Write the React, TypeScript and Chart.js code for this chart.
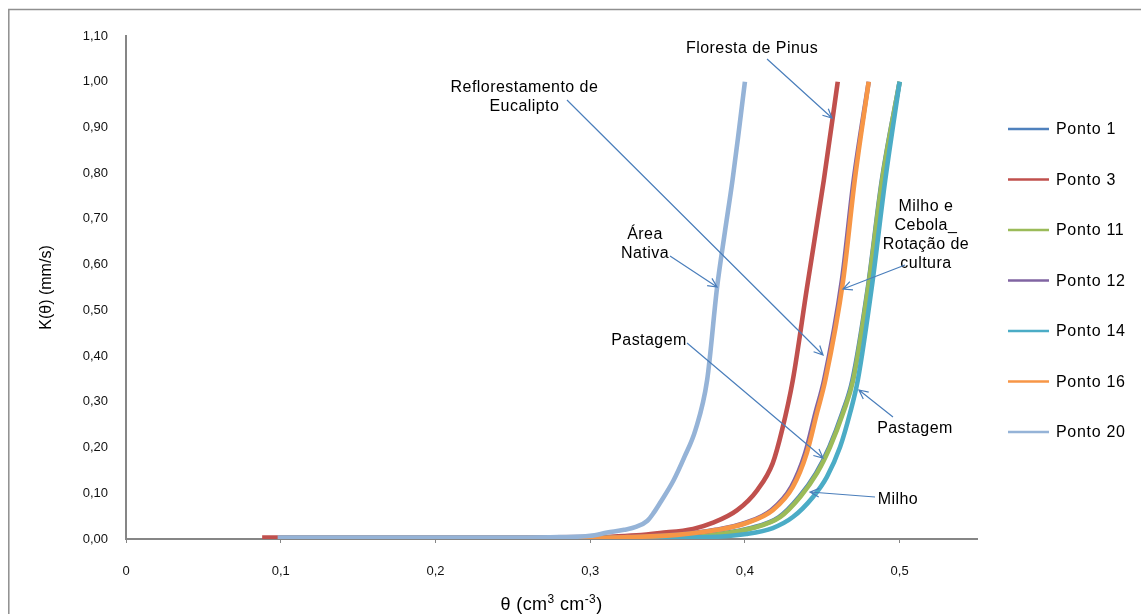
import React, { useEffect, useRef } from 'react';
import { Chart, registerables } from 'chart.js';

Chart.register(...registerables);

const FONT = '"Liberation Sans", Arial, sans-serif';

// ---- Data (θ in cm3 cm-3, K in mm/s) ----
const seriesNames = ['Ponto 1', 'Ponto 3', 'Ponto 11', 'Ponto 12', 'Ponto 14', 'Ponto 16', 'Ponto 20'];
const seriesColors = ['#4F81BD', '#C0504D', '#9BBB59', '#8064A2', '#4BACC6', '#F79646', '#95B3D7'];

const ponto1Theta = [0.1, 0.2, 0.3, 0.34, 0.362, 0.383, 0.404, 0.422, 0.435, 0.446, 0.4545, 0.463, 0.4695, 0.4795, 0.4885, 0.5];
const ponto1K = [0.002, 0.002, 0.002, 0.003, 0.004, 0.011, 0.024, 0.048, 0.092, 0.144, 0.201, 0.276, 0.348, 0.551, 0.785, 1.0];

const ponto3Theta = [0.088, 0.15, 0.2, 0.25, 0.3, 0.313, 0.33, 0.345, 0.3665, 0.379, 0.395, 0.408, 0.418, 0.424, 0.431, 0.44, 0.451, 0.46];
const ponto3K = [0.003, 0.003, 0.003, 0.003, 0.004, 0.005, 0.008, 0.013, 0.022, 0.035, 0.063, 0.107, 0.166, 0.238, 0.348, 0.547, 0.785, 1.0];

const ponto11Theta = [0.1, 0.2, 0.3, 0.34, 0.363, 0.384, 0.405, 0.4227, 0.4357, 0.4466, 0.455, 0.4635, 0.47, 0.4797, 0.4887, 0.5];
const ponto11K = [0.002, 0.002, 0.002, 0.003, 0.004, 0.011, 0.024, 0.048, 0.092, 0.144, 0.201, 0.276, 0.348, 0.551, 0.785, 1.0];

const ponto12Theta = [0.1, 0.2, 0.3, 0.323, 0.355, 0.381, 0.4, 0.417, 0.43, 0.439, 0.4456, 0.4512, 0.4627, 0.4703, 0.48];
const ponto12K = [0.002, 0.002, 0.002, 0.004, 0.009, 0.02, 0.035, 0.063, 0.114, 0.188, 0.276, 0.348, 0.566, 0.785, 1.0];

const ponto14Theta = [0.1, 0.2, 0.3, 0.35, 0.3756, 0.401, 0.418, 0.431, 0.444, 0.453, 0.4615, 0.468, 0.473, 0.482, 0.4907, 0.5];
const ponto14K = [0.002, 0.002, 0.002, 0.003, 0.004, 0.011, 0.024, 0.048, 0.092, 0.136, 0.201, 0.276, 0.348, 0.551, 0.785, 1.0];

const ponto16Theta = [0.1, 0.2, 0.3, 0.324, 0.356, 0.382, 0.401, 0.418, 0.431, 0.44, 0.4466, 0.452, 0.4635, 0.471, 0.48];
const ponto16K = [0.002, 0.002, 0.002, 0.004, 0.009, 0.02, 0.035, 0.063, 0.114, 0.188, 0.276, 0.348, 0.566, 0.785, 1.0];

const ponto20Theta = [0.098, 0.15, 0.2, 0.25, 0.28, 0.3, 0.311, 0.322, 0.33, 0.337, 0.341, 0.345, 0.354, 0.361, 0.368, 0.3756, 0.382, 0.387, 0.392, 0.396, 0.4];
const ponto20K = [0.003, 0.003, 0.003, 0.003, 0.004, 0.007, 0.014, 0.02, 0.027, 0.04, 0.057, 0.078, 0.129, 0.18, 0.238, 0.348, 0.55, 0.67, 0.785, 0.89, 1.0];

const seriesTheta = [ponto1Theta, ponto3Theta, ponto11Theta, ponto12Theta, ponto14Theta, ponto16Theta, ponto20Theta];
const seriesK = [ponto1K, ponto3K, ponto11K, ponto12K, ponto14K, ponto16K, ponto20K];

// Axis ranges / titles
const xMin = 0;
const xMax = 0.55;
const xStep = 0.1;
const yMin = 0;
const yMax = 1.1;
const yStep = 0.1;
const yTitle = 'K(θ) (mm/s)';
// x title pieces: [text, isSuperscript]
const xTitleParts: [string, boolean][] = [['θ (cm', false], ['3', true], [' cm', false], ['-3', true], [')', false]];

// Callouts: text anchor and arrow, in data coordinates
const callouts = [
  { lines: ['Floresta de Pinus'], tx: 0.4046, ty: 1.0715, fx: 0.4143, fy: 1.0496, ax: 0.4563, ay: 0.9206 },
  { lines: ['Reflorestamento de', 'Eucalipto'], tx: 0.2575, ty: 0.9862, fx: 0.285, fy: 0.96, ax: 0.4505, ay: 0.4024 },
  { lines: ['Área', 'Nativa'], tx: 0.3354, ty: 0.6648, fx: 0.3516, fy: 0.6189, ax: 0.382, ay: 0.5511 },
  { lines: ['Milho e', 'Cebola_', 'Rotação de', 'cultura'], tx: 0.517, ty: 0.726, fx: 0.5035, fy: 0.5992, ax: 0.4634, ay: 0.5467 },
  { lines: ['Pastagem'], tx: 0.338, ty: 0.433, fx: 0.3626, fy: 0.4286, ax: 0.4505, ay: 0.1771 },
  { lines: ['Pastagem'], tx: 0.5099, ty: 0.2405, fx: 0.4957, fy: 0.2668, ax: 0.4737, ay: 0.3258 },
  { lines: ['Milho'], tx: 0.4989, ty: 0.0853, fx: 0.4841, fy: 0.0918, ax: 0.4421, ay: 0.1028 },
];

const fmt = (v: number, d: number) => (v === 0 && d === 1 ? '0' : v.toFixed(d).replace('.', ','));

const overlayPlugin = {
  id: 'overlay',
  afterDraw(chart: any) {
    const { ctx, chartArea } = chart;
    const xs = chart.scales.x;
    const ys = chart.scales.y;
    ctx.save();
    // outer frame (right and bottom edges lie outside the visible area)
    ctx.strokeStyle = '#8f8f8f';
    ctx.lineWidth = 1.5;
    ctx.strokeRect(8.8, 9.5, 3000, 3000);

    // callouts
    ctx.font = `16px ${FONT}`;
    if ('letterSpacing' in ctx) (ctx as any).letterSpacing = '0.45px';
    ctx.fillStyle = '#000';
    ctx.textAlign = 'center';
    ctx.textBaseline = 'middle';
    for (const c of callouts) {
      const tx = xs.getPixelForValue(c.tx);
      const ty = ys.getPixelForValue(c.ty);
      c.lines.forEach((l, i) => ctx.fillText(l, tx, ty + i * 19));
      const x1 = xs.getPixelForValue(c.fx);
      const y1 = ys.getPixelForValue(c.fy);
      const x2 = xs.getPixelForValue(c.ax);
      const y2 = ys.getPixelForValue(c.ay);
      ctx.strokeStyle = '#4A7EBB';
      ctx.lineWidth = 1.2;
      ctx.beginPath();
      ctx.moveTo(x1, y1);
      ctx.lineTo(x2, y2);
      const ang = Math.atan2(y2 - y1, x2 - x1);
      const L = 10;
      const spread = 0.45;
      ctx.moveTo(x2 - L * Math.cos(ang - spread), y2 - L * Math.sin(ang - spread));
      ctx.lineTo(x2, y2);
      ctx.lineTo(x2 - L * Math.cos(ang + spread), y2 - L * Math.sin(ang + spread));
      ctx.stroke();
    }

    // legend
    ctx.textAlign = 'left';
    if ('letterSpacing' in ctx) (ctx as any).letterSpacing = '0.7px';
    const lx = chartArea.right + 31;
    seriesNames.forEach((name, i) => {
      const ly = chartArea.top + 93 + i * 50.5;
      ctx.strokeStyle = seriesColors[i];
      ctx.lineWidth = 2.5;
      ctx.beginPath();
      ctx.moveTo(lx, ly);
      ctx.lineTo(lx + 41, ly);
      ctx.stroke();
      ctx.fillStyle = '#000';
      ctx.fillText(name, lx + 48, ly + 1);
    });

    // x-axis title with superscripts
    if ('letterSpacing' in ctx) (ctx as any).letterSpacing = '0.4px';
    const mainFont = `18px ${FONT}`;
    const supFont = `12px ${FONT}`;
    let total = 0;
    for (const [t, sup] of xTitleParts) {
      ctx.font = sup ? supFont : mainFont;
      total += ctx.measureText(t).width;
    }
    let cx = (chartArea.left + chartArea.right) / 2 - total / 2;
    const cy = chartArea.bottom + 66;
    ctx.textBaseline = 'middle';
    for (const [t, sup] of xTitleParts) {
      ctx.font = sup ? supFont : mainFont;
      ctx.fillText(t, cx, sup ? cy - 5 : cy);
      cx += ctx.measureText(t).width;
    }
    ctx.restore();
  },
};

export default function App() {
  const ref = useRef<HTMLCanvasElement | null>(null);

  useEffect(() => {
    if (!ref.current) return;
    // the chart fills the whole window (its frame starts at the 8px inset)
    const prevMargin = document.body.style.margin;
    const prevOverflow = document.documentElement.style.overflow;
    document.body.style.margin = '0';
    document.documentElement.style.overflow = 'hidden';

    const datasets = seriesNames.map((name, i) => ({
      label: name,
      data: seriesTheta[i].map((t, j) => ({ x: t, y: seriesK[i][j] })),
      borderColor: seriesColors[i],
      backgroundColor: seriesColors[i],
      borderWidth: 4.6,
      pointRadius: 0,
      fill: false,
      cubicInterpolationMode: 'monotone' as const,
      order: seriesNames.length - i,
    }));

    const chart = new Chart(ref.current, {
      type: 'line',
      data: { datasets },
      options: {
        animation: false,
        responsive: false,
        devicePixelRatio: 1,
        layout: { padding: { left: 0, top: 36, right: 164, bottom: 0 } },
        plugins: { legend: { display: false }, tooltip: { enabled: false } },
        scales: {
          x: {
            type: 'linear',
            min: xMin,
            max: xMax,
            afterFit: (s: any) => { s.height = 75; },
            ticks: {
              stepSize: xStep,
              includeBounds: false,
              padding: 21,
              color: '#111',
              font: { size: 13, family: FONT },
              callback: (v: any) => fmt(Number(v), 1),
            },
            grid: { display: true, drawOnChartArea: false, drawTicks: true, tickLength: 4, color: '#868686', lineWidth: 1 },
            border: { display: true, color: '#868686', width: 2 },
            title: { display: false },
          },
          y: {
            type: 'linear',
            min: yMin,
            max: yMax,
            afterFit: (s: any) => { s.width = 126; },
            ticks: {
              stepSize: yStep,
              padding: 18,
              color: '#111',
              font: { size: 13, family: FONT },
              callback: (v: any) => fmt(Number(v), 2),
            },
            grid: { display: false, drawTicks: false },
            border: { display: true, color: '#868686', width: 2 },
            title: { display: true, text: yTitle, color: '#000', font: { size: 16, family: FONT }, padding: { top: 37.4, bottom: 0 } },
          },
        },
      },
      plugins: [overlayPlugin],
    });
    return () => {
      chart.destroy();
      document.body.style.margin = prevMargin;
      document.documentElement.style.overflow = prevOverflow;
    };
  }, []);

  return <canvas ref={ref} width={1141} height={614} style={{ display: 'block' }} />;
}
